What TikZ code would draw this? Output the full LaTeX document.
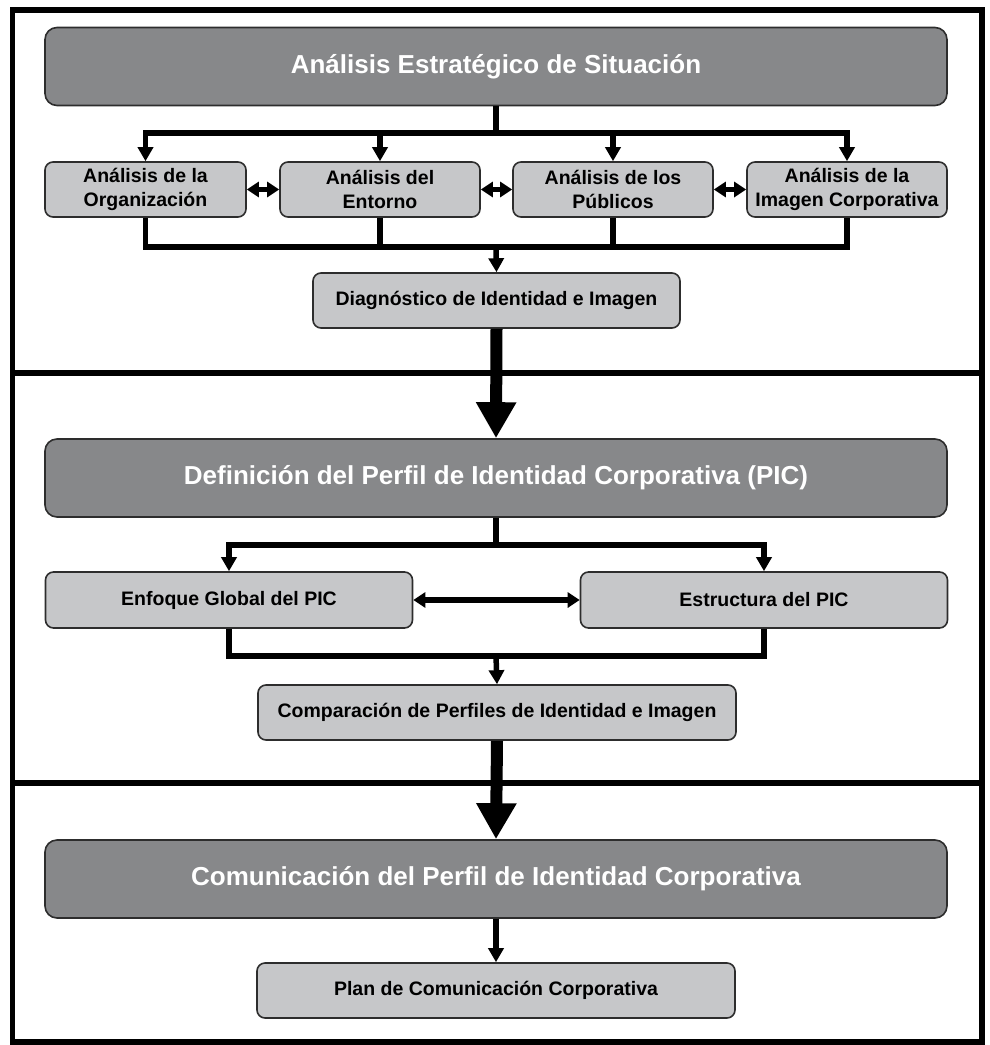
\documentclass[tikz,border=0pt]{standalone}
\usepackage{fontspec}
\setmainfont{Liberation Sans}
\usetikzlibrary{arrows.meta,calc}
\definecolor{darkbox}{RGB}{135,136,138}
\definecolor{lightbox}{RGB}{198,199,201}
\definecolor{boxline}{RGB}{45,45,45}
\tikzset{
  bigbox/.style={rounded corners=12pt, fill=darkbox, draw=boxline, line width=1.6pt,
    minimum width=902pt, minimum height=78pt, inner sep=0pt, text=white,
    font=\fontsize{26}{31}\selectfont\bfseries},
  smallbox/.style={rounded corners=8pt, fill=lightbox, draw=boxline, line width=1.6pt,
    minimum height=55pt, inner sep=0pt, align=center, text=black,
    font=\fontsize{19.5}{23.5}\selectfont\bfseries},
  conn/.style={line width=5.5pt, line join=miter, draw=black},
  arr/.style={conn, -{Triangle[length=14pt,width=15pt]}},
  darr/.style={line width=5.5pt, {Triangle[length=12pt,width=15pt]}-{Triangle[length=12pt,width=15pt]}},
  thickarr/.style={line width=12pt, -{Triangle[length=36pt,width=38pt]}},
  frameline/.style={line width=5.5pt, draw=black}
}
\begin{document}
\begin{tikzpicture}[x=1pt,y=-1pt]
\useasboundingbox (0,0) rectangle (990,1045);
% frame and separators
\draw[frameline] (12.5,10) rectangle (982,1042);
\draw[frameline] (12.5,373) -- (982,373);
\draw[frameline] (12.5,783) -- (982,783);

% section 1
\node[bigbox] (A) at (496,66.5) {Análisis Estratégico de Situación};
\node[smallbox, minimum width=201pt] (r1) at (145.5,189.5) {Análisis de la\\Organización};
\node[smallbox, minimum width=200pt] (r2) at (380,189.5) {Análisis del\\Entorno};
\node[smallbox, minimum width=200pt] (r3) at (613,189.5) {Análisis de los\\Públicos};
\node[smallbox, minimum width=200pt] (r4) at (847,189.5) {Análisis de la\\Imagen Corporativa};
\node[smallbox, minimum width=367pt] (diag) at (496.5,300.5) {Diagnóstico de Identidad e Imagen};
\coordinate (b1) at (496,133);
\coordinate (b2) at (496,247);
\draw[arr] (A.south) -- (b1) -| (r1.north);
\draw[arr] (b1) -| (r2.north);
\draw[arr] (b1) -| (r3.north);
\draw[arr] (b1) -| (r4.north);
\draw[conn] (r1.south) |- (b2);
\draw[conn] (r2.south) |- (b2);
\draw[conn] (r3.south) |- (b2);
\draw[conn] (r4.south) |- (b2);
\draw[arr] (b2) -- (diag.north);
\draw[darr] (r1.east) -- (r2.west);
\draw[darr] (r2.east) -- (r3.west);
\draw[darr] (r3.east) -- (r4.west);

% section 2
\node[bigbox] (B) at (496,478) {Definición del Perfil de Identidad Corporativa (PIC)};
\node[smallbox, minimum width=367pt, minimum height=56pt] (enf) at (229,600) {Enfoque Global del PIC};
\node[smallbox, minimum width=367pt, minimum height=56pt] (est) at (764,600) {Estructura del PIC};
\node[smallbox, minimum width=478pt] (comp) at (497,712.5) {Comparación de Perfiles de Identidad e Imagen};
\coordinate (b3) at (496,545);
\coordinate (b4) at (496,656);
\draw[thickarr] (diag.south) -- (B.north);
\draw[arr] (B.south) -- (b3) -| (enf.north);
\draw[arr] (b3) -| (est.north);
\draw[conn] (enf.south) |- (b4);
\draw[conn] (est.south) |- (b4);
\draw[arr] (b4) -- (comp.north);
\draw[darr] (enf.east) -- (est.west);

% section 3
\node[bigbox] (C) at (496,879) {Comunicación del Perfil de Identidad Corporativa};
\node[smallbox, minimum width=478pt] (plan) at (496,990.5) {Plan de Comunicación Corporativa};
\draw[thickarr] (comp.south) -- (C.north);
\draw[arr] (C.south) -- (plan.north);
\end{tikzpicture}
\end{document}
